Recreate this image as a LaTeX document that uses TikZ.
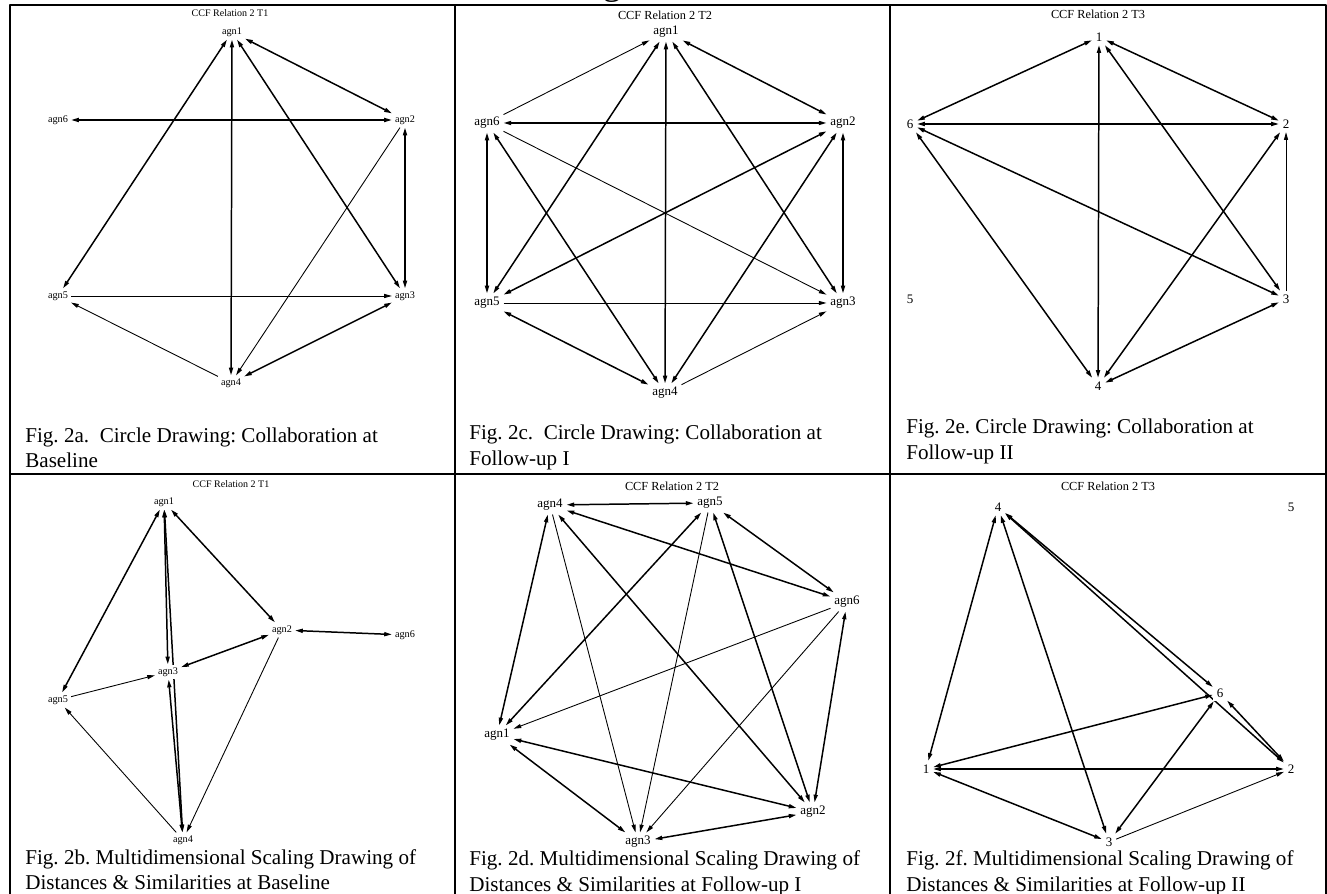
\documentclass[tikz,border=0pt]{standalone}
\usepackage{fontspec}
\setmainfont{Liberation Serif}
\usetikzlibrary{arrows.meta,backgrounds}
\frenchspacing
\definecolor{inkblack}{HTML}{000000}
\tikzset{
  >={Triangle[length=4.4pt,width=2.3pt]},
  rule/.style={draw=inkblack, line width=1.2pt},
  vert/.style={fill=white, inner sep=2pt, font=\fontsize{7.4}{8}\selectfont},
  vertsmall/.style={fill=white, inner sep=1.6pt, font=\fontsize{5.8}{7}\selectfont},
  plottitle/.style={inner sep=0pt, font=\fontsize{7}{8}\selectfont},
  plottitlesmall/.style={inner sep=0pt, font=\fontsize{5.7}{7}\selectfont},
  figcaption/.style={anchor=west, align=left, inner sep=0pt, font=\fontsize{12}{14.5}\selectfont},
  mutual/.style={<->, draw=inkblack, line width=0.85pt},
  oneway/.style={->, draw=inkblack, line width=0.5pt},
}

\begin{document}
\begin{tikzpicture}[line join=round]
  \useasboundingbox (0,0) rectangle (26.54,17.88);

  % table rules
  \draw[rule] (0.2,0) -- (0.2,17.78) -- (26.52,17.78) -- (26.52,0);
  \draw[rule] (9.1,0) -- (9.1,17.78);
  \draw[rule] (17.8,0) -- (17.8,17.78);
  \draw[rule] (0.2,8.4) -- (26.52,8.4);
  \node[inner sep=0pt, anchor=south, font=\fontsize{21}{24}\selectfont] (headfrag) at (12.24,17.82) {g};

  % Fig. 2a: circle, T1
  \node[plottitlesmall] (atitle) at (4.6, 17.62) {CCF Relation 2 T1};
  \node[vertsmall] (a1) at (4.64, 17.24) {agn1};
  \node[vertsmall] (a2) at (8.1, 15.48) {agn2};
  \node[vertsmall] (a3) at (8.1, 11.96) {agn3};
  \node[vertsmall] (a4) at (4.62, 10.22) {agn4};
  \node[vertsmall] (a5) at (1.16, 11.96) {agn5};
  \node[vertsmall] (a6) at (1.16, 15.48) {agn6};
  \node[figcaption] (acap) at (0.5, 8.92) {Fig. 2a.\ \ Circle Drawing: Collaboration at\\Baseline};

  % Fig. 2b: MDS, T1
  \node[plottitlesmall] (btitle) at (4.62, 8.2) {CCF Relation 2 T1};
  \node[vertsmall] (b1) at (3.28, 7.84) {agn1};
  \node[vertsmall] (b2) at (5.64, 5.28) {agn2};
  \node[vertsmall] (b3) at (3.36, 4.44) {agn3};
  \node[vertsmall] (b4) at (3.66, 1.08) {agn4};
  \node[vertsmall] (b5) at (1.16, 3.88) {agn5};
  \node[vertsmall] (b6) at (8.1, 5.18) {agn6};
  \node[figcaption] (bcap) at (0.5, 0.49) {Fig. 2b. Multidimensional Scaling Drawing of\\Distances \& Similarities at Baseline};

  % Fig. 2c: circle, T2
  \node[plottitle] (ctitle) at (13.3, 17.58) {CCF Relation 2 T2};
  \node[vert] (c1) at (13.32, 17.24) {agn1};
  \node[vert] (c2) at (16.86, 15.42) {agn2};
  \node[vert] (c3) at (16.86, 11.82) {agn3};
  \node[vert] (c4) at (13.3, 10.02) {agn4};
  \node[vert] (c5) at (9.74, 11.82) {agn5};
  \node[vert] (c6) at (9.74, 15.42) {agn6};
  \node[figcaption] (ccap) at (9.38, 8.93) {Fig. 2c.\ \ Circle Drawing: Collaboration at\\Follow-up I};

  % Fig. 2d: MDS, T2
  \node[plottitle] (dtitle) at (13.44, 8.15) {CCF Relation 2 T2};
  \node[vert] (d1) at (9.94, 3.18) {agn1};
  \node[vert] (d2) at (16.26, 1.64) {agn2};
  \node[vert] (d3) at (12.76, 1.04) {agn3};
  \node[vert] (d4) at (11.0, 7.78) {agn4};
  \node[vert] (d5) at (14.2, 7.82) {agn5};
  \node[vert] (d6) at (16.94, 5.84) {agn6};
  \node[figcaption] (dcap) at (9.38, 0.41) {Fig. 2d. Multidimensional Scaling Drawing of\\Distances \& Similarities at Follow-up I};

  % Fig. 2e: circle, T3
  \node[plottitle] (etitle) at (21.96, 17.6) {CCF Relation 2 T3};
  \node[vert] (e1) at (21.98, 17.14) {1};
  \node[vert] (e2) at (25.72, 15.4) {2};
  \node[vert] (e3) at (25.72, 11.9) {3};
  \node[vert] (e4) at (21.96, 10.16) {4};
  \node[vert] (e5) at (18.2, 11.9) {5};
  \node[vert] (e6) at (18.2, 15.4) {6};
  \node[figcaption] (ecap) at (18.12, 9.05) {Fig. 2e. Circle Drawing: Collaboration at\\Follow-up II};

  % Fig. 2f: MDS, T3
  \node[plottitle] (ftitle) at (22.16, 8.16) {CCF Relation 2 T3};
  \node[vert] (f1) at (18.52, 2.5) {1};
  \node[vert] (f2) at (25.82, 2.5) {2};
  \node[vert] (f3) at (22.18, 1.04) {3};
  \node[vert] (f4) at (19.96, 7.74) {4};
  \node[vert] (f5) at (25.82, 7.74) {5};
  \node[vert] (f6) at (24.4, 4.02) {6};
  \node[figcaption] (fcap) at (18.12, 0.41) {Fig. 2f. Multidimensional Scaling Drawing of\\Distances \& Similarities at Follow-up II};

  \begin{scope}[on background layer]
    \foreach \p in {a,b} {
      \foreach \s/\t/\kind in {1/5/mutual, 1/4/mutual, 1/3/mutual, 1/2/mutual, 6/2/mutual,
                               2/3/mutual, 2/4/oneway, 5/3/oneway, 4/5/oneway, 4/3/mutual} {
        \draw[\kind] (\p\s) -- (\p\t);
      }
    }
    \foreach \p in {c,d} {
      \foreach \s/\t/\kind in {6/1/oneway, 1/5/mutual, 1/4/mutual, 1/3/mutual, 1/2/mutual,
                               6/2/mutual, 6/5/mutual, 6/4/mutual, 6/3/oneway, 5/2/mutual,
                               2/4/mutual, 2/3/mutual, 5/3/oneway, 5/4/mutual, 4/3/oneway} {
        \draw[\kind] (\p\s) -- (\p\t);
      }
    }
    \foreach \p in {e,f} {
      \foreach \s/\t/\kind in {1/6/mutual, 1/4/mutual, 1/3/mutual, 1/2/mutual, 6/2/mutual,
                               6/4/mutual, 6/3/mutual, 2/4/mutual, 3/2/oneway, 3/4/mutual} {
        \draw[\kind] (\p\s) -- (\p\t);
      }
    }
  \end{scope}
\end{tikzpicture}
\end{document}
